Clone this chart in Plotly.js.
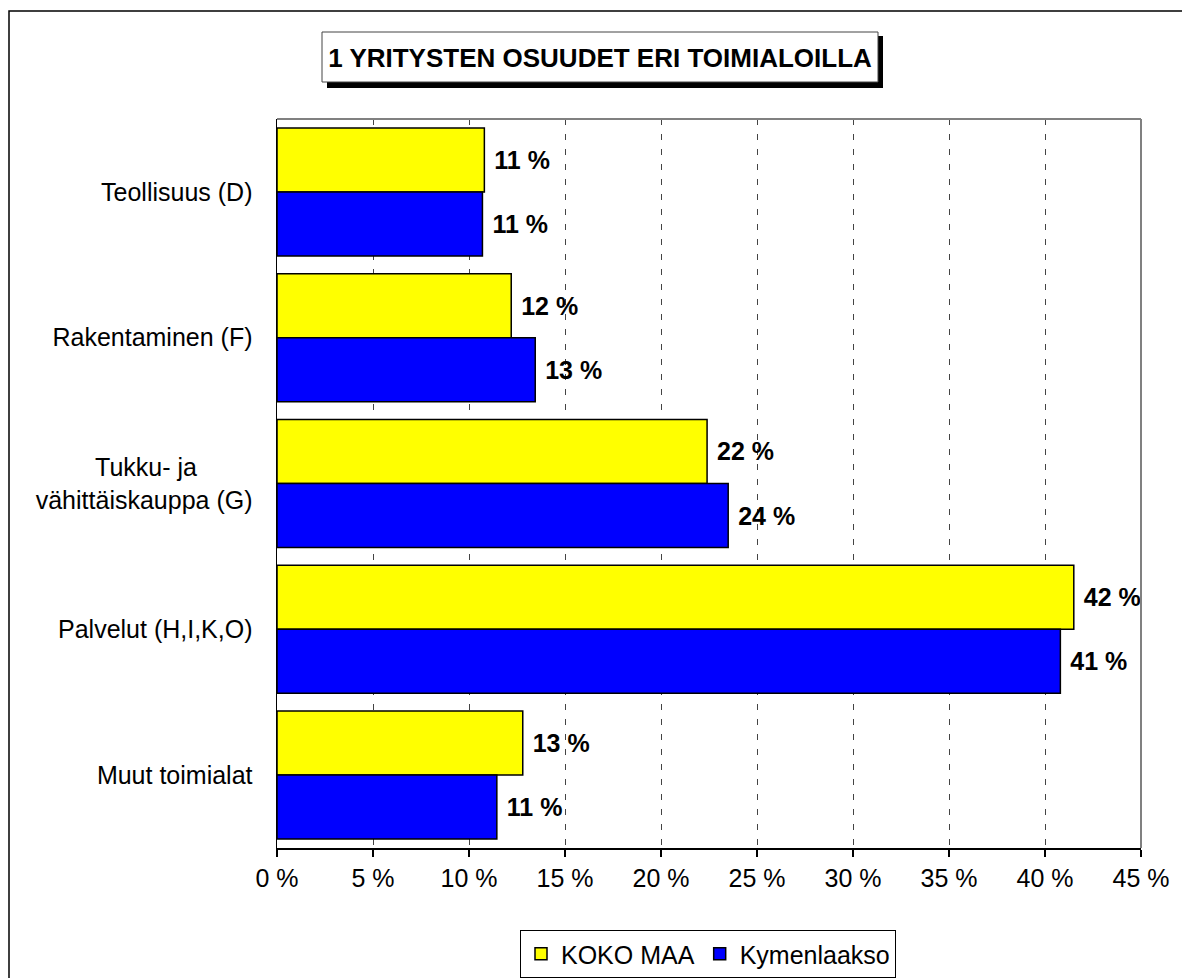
<!DOCTYPE html>
<html>
<head>
<meta charset="utf-8">
<script src="https://cdn.plot.ly/plotly-3.0.1.min.js"></script>
<style>
  html, body { margin: 0; padding: 0; background: #fff; }
  #chart { width: 1182px; height: 978px; }
</style>
</head>
<body>
<div id="chart"></div>
<script>
const categories = ['Teollisuus (D)', 'Rakentaminen (F)', 'Tukku- ja vähittäiskauppa (G)', 'Palvelut (H,I,K,O)', 'Muut toimialat'];
const tickLabels = ['Teollisuus (D)', 'Rakentaminen (F)', 'Tukku- ja' + '\u00a0'.repeat(8) + '<br>vähittäiskauppa (G)', 'Palvelut (H,I,K,O)', 'Muut toimialat'];
const kokoMaa = [10.8, 12.2, 22.4, 41.5, 12.8];
const kymenlaakso = [10.7, 13.45, 23.5, 40.8, 11.45];
const xTicks = [0, 5, 10, 15, 20, 25, 30, 35, 40, 45];

const W = 1182, H = 978;
const L = 277, R = 1141, T = 119, B = 848;
const font = 'Liberation Sans, Arial, sans-serif';

// pixel -> paper coords
const px = x => (x - L) / (R - L);
const py = y => (B - y) / (B - T);

function pct(v) {
	return '\u00a0' + Math.round(v) + ' %';
}

const barStyle = (color) => ({
	color: color,
	line: {color: '#000', width: 1.5}
});

const labelFont = {family: font, size: 25, color: '#000', weight: 'bold'};

const trace1 = {
	type: 'bar',
	orientation: 'h',
	name: 'KOKO MAA',
	y: categories,
	x: kokoMaa,
	marker: barStyle('#ffff00'),
	text: kokoMaa.map(pct),
	textposition: 'outside',
	textfont: labelFont,
	cliponaxis: false,
	hoverinfo: 'none'
};

const trace2 = {
	type: 'bar',
	orientation: 'h',
	name: 'Kymenlaakso',
	y: categories,
	x: kymenlaakso,
	marker: barStyle('#0000ff'),
	text: kymenlaakso.map(pct),
	textposition: 'outside',
	textfont: labelFont,
	cliponaxis: false,
	hoverinfo: 'none'
};

const layout = {
	width: W,
	height: H,
	margin: {l: L, r: W - R, t: T, b: H - B, pad: 0},
	paper_bgcolor: '#fff',
	plot_bgcolor: '#fff',
	font: {family: font, size: 25, color: '#000'},
	barmode: 'group',
	bargap: 0.122,
	bargroupgap: 0,
	showlegend: true,
	title: {
		text: '<b>1 YRITYSTEN OSUUDET ERI TOIMIALOILLA</b>',
		font: {family: font, size: 26, color: '#000'},
		xref: 'container', yref: 'container',
		x: 600 / W, y: 1 - 58 / H,
		xanchor: 'center', yanchor: 'middle'
	},
	xaxis: {
		range: [0, 45],
		tickvals: xTicks,
		ticktext: xTicks.map(v => v + ' %'),
		ticks: 'outside',
		ticklen: 7,
		tickcolor: '#000',
		tickwidth: 1.5,
		showline: true,
		linecolor: '#000',
		linewidth: 1.5,
		showgrid: true,
		gridcolor: '#444',
		gridwidth: 1,
		griddash: '6px,9px',
		zeroline: false,
		tickfont: {family: font, size: 25, color: '#000'},
		fixedrange: true
	},
	yaxis: {
		type: 'category',
		autorange: 'reversed',
		tickvals: categories,
		ticktext: tickLabels,
		ticks: '',
		ticklabelstandoff: 18,
		showline: true,
		linecolor: '#000',
		linewidth: 1.5,
		showgrid: false,
		zeroline: false,
		tickfont: {family: font, size: 25, color: '#000'},
		fixedrange: true
	},
	// container refs so the legend does not push the bottom margin
	legend: {
		orientation: 'h',
		xref: 'container', yref: 'container',
		x: 520 / W, y: 1 - 930 / H,
		xanchor: 'left', yanchor: 'top',
		bordercolor: '#000',
		borderwidth: 1,
		bgcolor: '#fff',
		font: {family: font, size: 25, color: '#000'},
		itemwidth: 30,
		traceorder: 'normal'
	},
	shapes: [
		// outer chart frame
		{type: 'rect', xref: 'paper', yref: 'paper', layer: 'below',
			x0: px(9), x1: px(1200), y0: py(11), y1: py(1000),
			line: {color: '#000', width: 1.5}, fillcolor: 'rgba(0,0,0,0)'},
		// title box shadow
		{type: 'rect', xref: 'paper', yref: 'paper', layer: 'below',
			x0: px(327), x1: px(883), y0: py(36), y1: py(88),
			line: {width: 0}, fillcolor: '#000'},
		// title box
		{type: 'rect', xref: 'paper', yref: 'paper', layer: 'below',
			x0: px(322), x1: px(878), y0: py(32), y1: py(82),
			line: {color: '#444', width: 1}, fillcolor: '#fff'},
		// plot area border top / right
		{type: 'line', xref: 'paper', yref: 'paper', layer: 'above',
			x0: 0, x1: 1, y0: 1, y1: 1, line: {color: '#808080', width: 2}},
		{type: 'line', xref: 'paper', yref: 'paper', layer: 'above',
			x0: 1, x1: 1, y0: 0, y1: 1, line: {color: '#808080', width: 2}}
	]
};

Plotly.newPlot('chart', [trace1, trace2], layout, {displayModeBar: false, staticPlot: true});
</script>
</body>
</html>
